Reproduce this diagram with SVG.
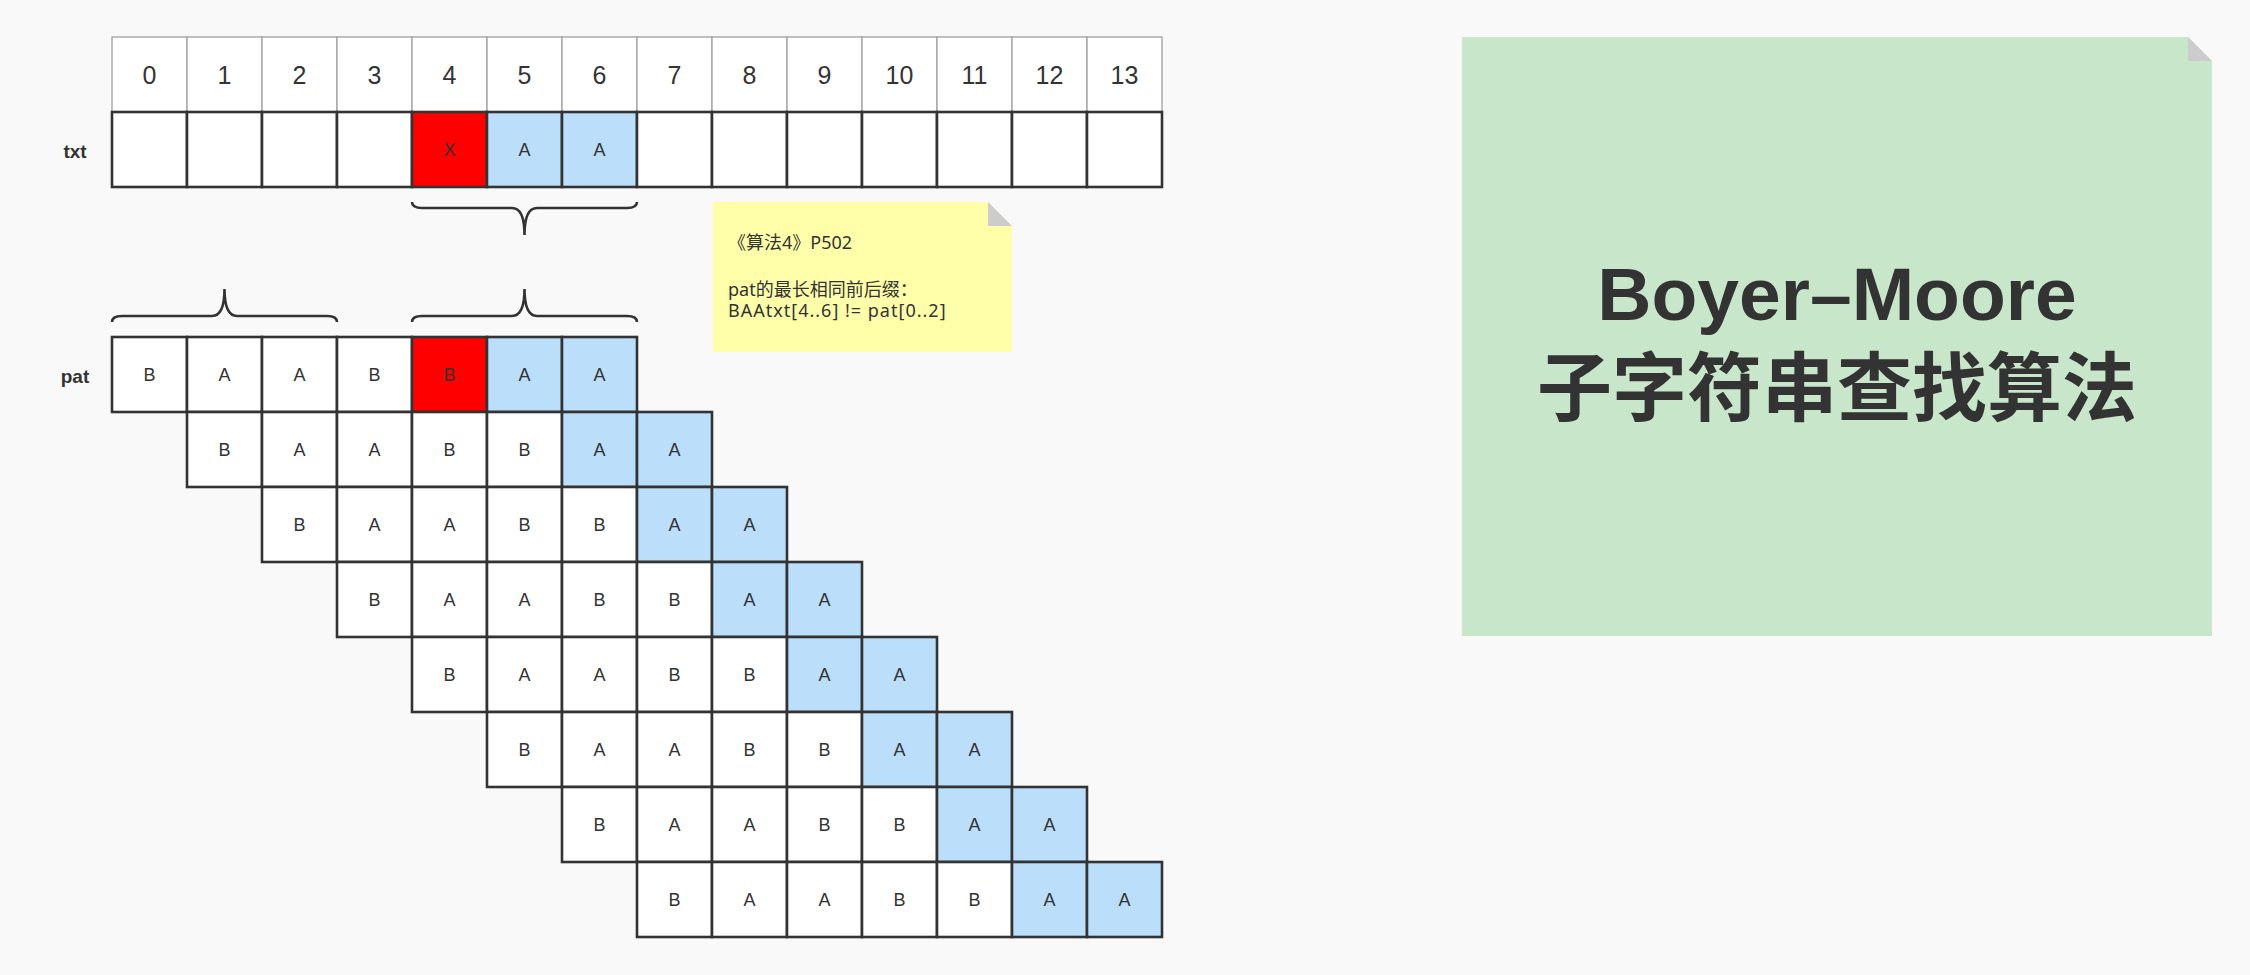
<svg xmlns="http://www.w3.org/2000/svg" width="2250" height="975" viewBox="0 0 2250 975">
<style>
.hd{fill:#fff;stroke:#a6a6a6;stroke-width:1.4}
.c{fill:#fff;stroke:#333;stroke-width:2.6}
.r{fill:#ff0000;stroke:#333;stroke-width:2.6}
.b{fill:#bbdefb;stroke:#333;stroke-width:2.6}
.num{font-family:"Liberation Sans",Arial,sans-serif;font-size:25px;fill:#333;text-anchor:middle}
.ch{font-family:"Liberation Sans",Arial,sans-serif;font-size:18px;fill:#333;text-anchor:middle}
.lbl{font-family:"Liberation Sans",Arial,sans-serif;font-size:19px;font-weight:bold;fill:#333;text-anchor:middle}
.brace{fill:none;stroke:#333;stroke-width:2.6}
.note{font-family:"Noto Sans","Noto Sans CJK SC",sans-serif;font-size:18px;fill:#333}
.title{font-family:"Liberation Sans","Noto Sans CJK SC",sans-serif;font-size:75px;font-weight:bold;fill:#333;text-anchor:middle}
.fold{fill:#cccccc}
</style>
<rect x="0" y="0" width="2250" height="975" fill="#f9f9f9"/>

<g id="index-row">
<rect class="hd" x="112" y="37" width="75" height="75"/><text class="num" x="149.5" y="84">0</text>
<rect class="hd" x="187" y="37" width="75" height="75"/><text class="num" x="224.5" y="84">1</text>
<rect class="hd" x="262" y="37" width="75" height="75"/><text class="num" x="299.5" y="84">2</text>
<rect class="hd" x="337" y="37" width="75" height="75"/><text class="num" x="374.5" y="84">3</text>
<rect class="hd" x="412" y="37" width="75" height="75"/><text class="num" x="449.5" y="84">4</text>
<rect class="hd" x="487" y="37" width="75" height="75"/><text class="num" x="524.5" y="84">5</text>
<rect class="hd" x="562" y="37" width="75" height="75"/><text class="num" x="599.5" y="84">6</text>
<rect class="hd" x="637" y="37" width="75" height="75"/><text class="num" x="674.5" y="84">7</text>
<rect class="hd" x="712" y="37" width="75" height="75"/><text class="num" x="749.5" y="84">8</text>
<rect class="hd" x="787" y="37" width="75" height="75"/><text class="num" x="824.5" y="84">9</text>
<rect class="hd" x="862" y="37" width="75" height="75"/><text class="num" x="899.5" y="84">10</text>
<rect class="hd" x="937" y="37" width="75" height="75"/><text class="num" x="974.5" y="84">11</text>
<rect class="hd" x="1012" y="37" width="75" height="75"/><text class="num" x="1049.5" y="84">12</text>
<rect class="hd" x="1087" y="37" width="75" height="75"/><text class="num" x="1124.5" y="84">13</text>
</g>

<g id="txt-row">
<text class="lbl" x="75" y="158">txt</text>
<rect class="c" x="112" y="112" width="75" height="75"/>
<rect class="c" x="187" y="112" width="75" height="75"/>
<rect class="c" x="262" y="112" width="75" height="75"/>
<rect class="c" x="337" y="112" width="75" height="75"/>
<rect class="r" x="412" y="112" width="75" height="75"/><text class="ch" x="449.5" y="156">X</text>
<rect class="b" x="487" y="112" width="75" height="75"/><text class="ch" x="524.5" y="156">A</text>
<rect class="b" x="562" y="112" width="75" height="75"/><text class="ch" x="599.5" y="156">A</text>
<rect class="c" x="637" y="112" width="75" height="75"/>
<rect class="c" x="712" y="112" width="75" height="75"/>
<rect class="c" x="787" y="112" width="75" height="75"/>
<rect class="c" x="862" y="112" width="75" height="75"/>
<rect class="c" x="937" y="112" width="75" height="75"/>
<rect class="c" x="1012" y="112" width="75" height="75"/>
<rect class="c" x="1087" y="112" width="75" height="75"/>
</g>

<g id="braces">
<path class="brace" d="M412,202 Q412,208 422,208 L512,208 Q524.5,208 524.5,235 Q524.5,208 537,208 L627,208 Q637,208 637,202"/>
<path class="brace" d="M112,322 Q112,316 122,316 L212,316 Q224.5,316 224.5,289 Q224.5,316 237,316 L327,316 Q337,316 337,322"/>
<path class="brace" d="M412,322 Q412,316 422,316 L512,316 Q524.5,316 524.5,289 Q524.5,316 537,316 L627,316 Q637,316 637,322"/>
</g>

<g id="pat-row0">
<text class="lbl" x="75" y="383">pat</text>
<rect class="c" x="112" y="337" width="75" height="75"/><text class="ch" x="149.5" y="381">B</text>
<rect class="c" x="187" y="337" width="75" height="75"/><text class="ch" x="224.5" y="381">A</text>
<rect class="c" x="262" y="337" width="75" height="75"/><text class="ch" x="299.5" y="381">A</text>
<rect class="c" x="337" y="337" width="75" height="75"/><text class="ch" x="374.5" y="381">B</text>
<rect class="r" x="412" y="337" width="75" height="75"/><text class="ch" x="449.5" y="381">B</text>
<rect class="b" x="487" y="337" width="75" height="75"/><text class="ch" x="524.5" y="381">A</text>
<rect class="b" x="562" y="337" width="75" height="75"/><text class="ch" x="599.5" y="381">A</text>
</g>

<g id="pat-row1">
<rect class="c" x="187" y="412" width="75" height="75"/><text class="ch" x="224.5" y="456">B</text>
<rect class="c" x="262" y="412" width="75" height="75"/><text class="ch" x="299.5" y="456">A</text>
<rect class="c" x="337" y="412" width="75" height="75"/><text class="ch" x="374.5" y="456">A</text>
<rect class="c" x="412" y="412" width="75" height="75"/><text class="ch" x="449.5" y="456">B</text>
<rect class="c" x="487" y="412" width="75" height="75"/><text class="ch" x="524.5" y="456">B</text>
<rect class="b" x="562" y="412" width="75" height="75"/><text class="ch" x="599.5" y="456">A</text>
<rect class="b" x="637" y="412" width="75" height="75"/><text class="ch" x="674.5" y="456">A</text>
</g>

<g id="pat-row2">
<rect class="c" x="262" y="487" width="75" height="75"/><text class="ch" x="299.5" y="531">B</text>
<rect class="c" x="337" y="487" width="75" height="75"/><text class="ch" x="374.5" y="531">A</text>
<rect class="c" x="412" y="487" width="75" height="75"/><text class="ch" x="449.5" y="531">A</text>
<rect class="c" x="487" y="487" width="75" height="75"/><text class="ch" x="524.5" y="531">B</text>
<rect class="c" x="562" y="487" width="75" height="75"/><text class="ch" x="599.5" y="531">B</text>
<rect class="b" x="637" y="487" width="75" height="75"/><text class="ch" x="674.5" y="531">A</text>
<rect class="b" x="712" y="487" width="75" height="75"/><text class="ch" x="749.5" y="531">A</text>
</g>

<g id="pat-row3">
<rect class="c" x="337" y="562" width="75" height="75"/><text class="ch" x="374.5" y="606">B</text>
<rect class="c" x="412" y="562" width="75" height="75"/><text class="ch" x="449.5" y="606">A</text>
<rect class="c" x="487" y="562" width="75" height="75"/><text class="ch" x="524.5" y="606">A</text>
<rect class="c" x="562" y="562" width="75" height="75"/><text class="ch" x="599.5" y="606">B</text>
<rect class="c" x="637" y="562" width="75" height="75"/><text class="ch" x="674.5" y="606">B</text>
<rect class="b" x="712" y="562" width="75" height="75"/><text class="ch" x="749.5" y="606">A</text>
<rect class="b" x="787" y="562" width="75" height="75"/><text class="ch" x="824.5" y="606">A</text>
</g>

<g id="pat-row4">
<rect class="c" x="412" y="637" width="75" height="75"/><text class="ch" x="449.5" y="681">B</text>
<rect class="c" x="487" y="637" width="75" height="75"/><text class="ch" x="524.5" y="681">A</text>
<rect class="c" x="562" y="637" width="75" height="75"/><text class="ch" x="599.5" y="681">A</text>
<rect class="c" x="637" y="637" width="75" height="75"/><text class="ch" x="674.5" y="681">B</text>
<rect class="c" x="712" y="637" width="75" height="75"/><text class="ch" x="749.5" y="681">B</text>
<rect class="b" x="787" y="637" width="75" height="75"/><text class="ch" x="824.5" y="681">A</text>
<rect class="b" x="862" y="637" width="75" height="75"/><text class="ch" x="899.5" y="681">A</text>
</g>

<g id="pat-row5">
<rect class="c" x="487" y="712" width="75" height="75"/><text class="ch" x="524.5" y="756">B</text>
<rect class="c" x="562" y="712" width="75" height="75"/><text class="ch" x="599.5" y="756">A</text>
<rect class="c" x="637" y="712" width="75" height="75"/><text class="ch" x="674.5" y="756">A</text>
<rect class="c" x="712" y="712" width="75" height="75"/><text class="ch" x="749.5" y="756">B</text>
<rect class="c" x="787" y="712" width="75" height="75"/><text class="ch" x="824.5" y="756">B</text>
<rect class="b" x="862" y="712" width="75" height="75"/><text class="ch" x="899.5" y="756">A</text>
<rect class="b" x="937" y="712" width="75" height="75"/><text class="ch" x="974.5" y="756">A</text>
</g>

<g id="pat-row6">
<rect class="c" x="562" y="787" width="75" height="75"/><text class="ch" x="599.5" y="831">B</text>
<rect class="c" x="637" y="787" width="75" height="75"/><text class="ch" x="674.5" y="831">A</text>
<rect class="c" x="712" y="787" width="75" height="75"/><text class="ch" x="749.5" y="831">A</text>
<rect class="c" x="787" y="787" width="75" height="75"/><text class="ch" x="824.5" y="831">B</text>
<rect class="c" x="862" y="787" width="75" height="75"/><text class="ch" x="899.5" y="831">B</text>
<rect class="b" x="937" y="787" width="75" height="75"/><text class="ch" x="974.5" y="831">A</text>
<rect class="b" x="1012" y="787" width="75" height="75"/><text class="ch" x="1049.5" y="831">A</text>
</g>

<g id="pat-row7">
<rect class="c" x="637" y="862" width="75" height="75"/><text class="ch" x="674.5" y="906">B</text>
<rect class="c" x="712" y="862" width="75" height="75"/><text class="ch" x="749.5" y="906">A</text>
<rect class="c" x="787" y="862" width="75" height="75"/><text class="ch" x="824.5" y="906">A</text>
<rect class="c" x="862" y="862" width="75" height="75"/><text class="ch" x="899.5" y="906">B</text>
<rect class="c" x="937" y="862" width="75" height="75"/><text class="ch" x="974.5" y="906">B</text>
<rect class="b" x="1012" y="862" width="75" height="75"/><text class="ch" x="1049.5" y="906">A</text>
<rect class="b" x="1087" y="862" width="75" height="75"/><text class="ch" x="1124.5" y="906">A</text>
</g>

<g id="note">
<path d="M713,202 H988 L1012,226 V352 H713 Z" fill="#ffffaa"/>
<path class="fold" d="M988,202 L1012,226 H988 Z"/>
<text class="note" x="728" y="249">《算法4》P502</text>
<text class="note" x="728" y="296">pat的最长相同前后缀：</text>
<text class="note" x="728" y="317" letter-spacing="1">BAAtxt[4..6] != pat[0..2]</text>
</g>

<g id="title">
<path d="M1462,37 H2188 L2212,61 V636 H1462 Z" fill="#c8e6c9"/>
<path class="fold" d="M2188,37 L2212,61 H2188 Z"/>
<text class="title" x="1837" y="320">Boyer–Moore</text>
<text class="title" x="1837" y="415">子字符串查找算法</text>
</g>
</svg>
